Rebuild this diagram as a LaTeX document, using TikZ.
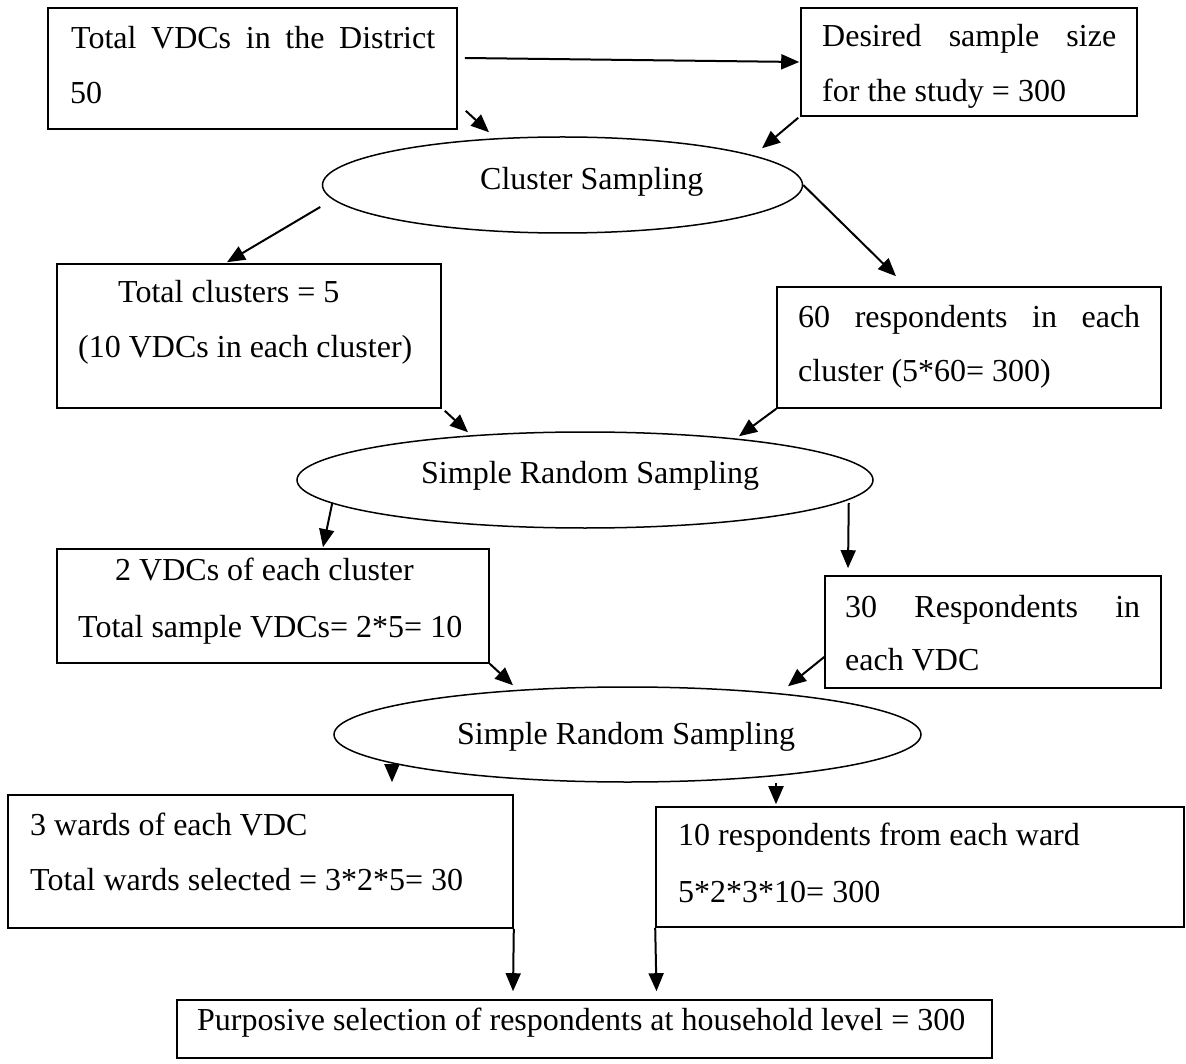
\documentclass[tikz,border=0pt]{standalone}
\usepackage{fontspec}
\setmainfont{Liberation Serif}
\usetikzlibrary{arrows.meta,shapes.geometric}
\begin{document}
\begin{tikzpicture}[x=1pt,y=-1pt,
  box/.style={draw,line width=1.6pt,rectangle,inner sep=0pt},
  oval/.style={draw,line width=1.5pt,ellipse,inner sep=0pt},
  txt/.style={font=\fontsize{32}{38}\selectfont,inner sep=0pt,anchor=base west},
  arr/.style={line width=2pt,-{Triangle[length=18pt,width=15pt]}}]
\useasboundingbox (0,0) rectangle (1186,1064);
% boxes and ellipses
\node[box,minimum width=409pt,minimum height=121pt] (b1) at (252.5,68.5) {};
\node[box,minimum width=336pt,minimum height=108pt] (b2) at (969,62) {};
\node[oval,minimum width=480pt,minimum height=96pt] (e1) at (562.5,185) {};
\node[box,minimum width=384pt,minimum height=144pt] (b4) at (249,336) {};
\node[box,minimum width=384pt,minimum height=121pt] (b5) at (969,347.5) {};
\node[oval,minimum width=576pt,minimum height=96pt] (e2) at (585,480) {};
\node[box,minimum width=432pt,minimum height=114pt] (b7) at (273,606) {};
\node[box,minimum width=336pt,minimum height=112pt] (b8) at (993,632) {};
\node[oval,minimum width=587pt,minimum height=95pt] (e3) at (627.5,734.5) {};
\node[box,minimum width=505pt,minimum height=133pt] (b10) at (260.5,861.5) {};
\node[box,minimum width=528pt,minimum height=120pt] (b11) at (920,867) {};
\node[box,minimum width=815pt,minimum height=58pt] (b12) at (584.5,1029) {};
% texts
\node[txt] (t1a) at (71,49) {\makebox[364pt][s]{Total VDCs in the District}};
\node[txt] (t1b) at (70,104) {50};
\node[txt] (t2a) at (822,47) {\makebox[294pt][s]{Desired sample size}};
\node[txt] (t2b) at (822,102) {for the study = 300};
\node[txt] (te1) at (480,190) {Cluster Sampling};
\node[txt] (t4a) at (118,303) {Total clusters = 5};
\node[txt] (t4b) at (78,358) {(10 VDCs in each cluster)};
\node[txt] (t5a) at (798,328) {\makebox[342pt][s]{60 respondents in each}};
\node[txt] (t5b) at (798,382) {cluster (5*60= 300)};
\node[txt] (te2) at (421,483) {Simple Random Sampling};
\node[txt] (t7a) at (115,580) {2 VDCs of each cluster};
\node[txt] (t7b) at (78,637) {Total sample VDCs= 2*5= 10};
\node[txt] (t8a) at (845,617) {\makebox[295pt][s]{30 Respondents in}};
\node[txt] (t8b) at (845,670) {each VDC};
\node[txt] (te3) at (457,744) {Simple Random Sampling};
\node[txt] (t10a) at (30,835) {3 wards of each VDC};
\node[txt] (t10b) at (30,890) {Total wards selected = 3*2*5= 30};
\node[txt] (t11a) at (678,845) {10 respondents from each ward};
\node[txt] (t11b) at (678,902) {5*2*3*10= 300};
\node[txt] (t12) at (197,1030) {Purposive selection of respondents at household level = 300};
% connectors
\draw[arr] ([shift={(7,-10.5)}]b1.east) -- ([xshift=-1pt]b2.west);
\draw[arr] ([shift={(8,-19)}]b1.south east) -- ([shift={(-73.5,-4)}]e1.north);
\draw[arr] ([shift={(-2,1)}]b2.south west) -- ([shift={(199.5,12)}]e1.north);
\draw[arr] ([shift={(-1.5,22)}]e1.west) -- ([shift={(-22,-1)}]b4.north);
\draw[arr] (e1.east) -- ([shift={(-73,-10)}]b5.north);
\draw[arr] ([shift={(3,2)}]b4.south east) -- ([shift={(-117,1)}]e2.north);
\draw[arr] (b5.south west) -- ([shift={(154,5)}]e2.north);
\draw[arr] ([shift={(36,23)}]e2.west) -- ([shift={(50,-1)}]b7.north);
\draw[arr] ([shift={(-25,23)}]e2.east) -- ([shift={(-145,-7)}]b8.north);
\draw[arr] (b7.south east) -- ([shift={(-114.5,-1)}]e3.north);
\draw[arr] ([shift={(0,25)}]b8.west) -- ([shift={(160.5,0)}]e3.north);
\draw[arr] ([shift={(-235.5,-19)}]e3.south) -- ([shift={(131.5,-12)}]b10.north);
\draw[arr] ([shift={(148.5,0)}]e3.south) -- ([shift={(-144,-2)}]b11.north);
\draw[arr] (b10.south east) -- ([shift={(-71.5,-8)}]b12.north);
\draw[arr] (b11.south west) -- ([shift={(72,-8)}]b12.north);
\end{tikzpicture}
\end{document}
